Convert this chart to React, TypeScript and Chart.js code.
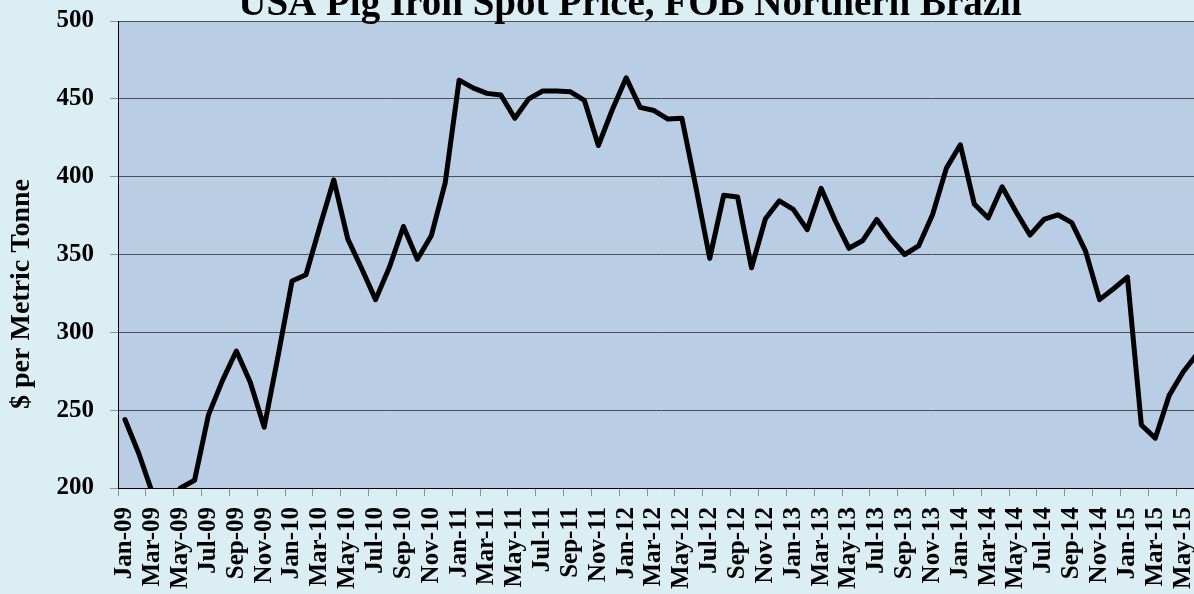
import React, { useEffect, useRef } from "react";
import { Chart, registerables } from "chart.js";

Chart.register(...registerables);

const CHART_TITLE = "USA Pig Iron Spot Price, FOB Northern Brazil";
const Y_AXIS_TITLE = "$ per Metric Tonne";

const months = [
  "Jan-09", "Feb-09", "Mar-09", "Apr-09", "May-09", "Jun-09", "Jul-09", "Aug-09", "Sep-09", "Oct-09", "Nov-09", "Dec-09",
  "Jan-10", "Feb-10", "Mar-10", "Apr-10", "May-10", "Jun-10", "Jul-10", "Aug-10", "Sep-10", "Oct-10", "Nov-10", "Dec-10",
  "Jan-11", "Feb-11", "Mar-11", "Apr-11", "May-11", "Jun-11", "Jul-11", "Aug-11", "Sep-11", "Oct-11", "Nov-11", "Dec-11",
  "Jan-12", "Feb-12", "Mar-12", "Apr-12", "May-12", "Jun-12", "Jul-12", "Aug-12", "Sep-12", "Oct-12", "Nov-12", "Dec-12",
  "Jan-13", "Feb-13", "Mar-13", "Apr-13", "May-13", "Jun-13", "Jul-13", "Aug-13", "Sep-13", "Oct-13", "Nov-13", "Dec-13",
  "Jan-14", "Feb-14", "Mar-14", "Apr-14", "May-14", "Jun-14", "Jul-14", "Aug-14", "Sep-14", "Oct-14", "Nov-14", "Dec-14",
  "Jan-15", "Feb-15", "Mar-15", "Apr-15", "May-15", "Jun-15",
];

const prices2009 = [244, 222, 196, 190, 200, 205, 247, 269, 288, 268, 239, 285];
const prices2010 = [333, 337, 368, 398, 360, 341, 321, 342, 368, 347, 362, 396];
const prices2011 = [462, 457, 453.5, 452.5, 437.5, 450, 455, 455, 454.5, 449, 420, 443];
const prices2012 = [463.5, 444.5, 442.5, 437, 437.5, 393.5, 347.5, 388, 387, 341.5, 373, 384.5];
const prices2013 = [379, 366, 392.5, 372, 354, 359, 372.5, 360, 350, 355.5, 375.5, 405.5];
const prices2014 = [420.5, 382.5, 373.5, 393.5, 377.5, 362.5, 372.5, 375.5, 370.5, 352, 321, 328];
const prices2015 = [335.5, 240.5, 232, 259.5, 274.5, 286];

const prices = [
  ...prices2009, ...prices2010, ...prices2011, ...prices2012,
  ...prices2013, ...prices2014, ...prices2015,
];

const yTickValues = [200, 250, 300, 350, 400, 450, 500];

const FONT = '"Liberation Serif", "Times New Roman", serif';

const plotBackground = {
  id: "plotBackground",
  beforeDraw(chart: any) {
    const { ctx, chartArea } = chart;
    if (!chartArea) return;
    ctx.save();
    ctx.fillStyle = "#B9CDE5";
    ctx.fillRect(chartArea.left, chartArea.top, chartArea.right - chartArea.left, chartArea.bottom - chartArea.top);
    ctx.restore();
  },
};

const chartTexts = {
  id: "chartTexts",
  afterDraw(chart: any) {
    const { ctx } = chart;
    ctx.save();
    ctx.fillStyle = "#000";
    ctx.font = `bold 39px ${FONT}`;
    ctx.textAlign = "center";
    ctx.textBaseline = "alphabetic";
    ctx.fillText(CHART_TITLE, 630, 15);

    ctx.translate(22, 294);
    ctx.rotate(-Math.PI / 2);
    ctx.font = `bold 28px ${FONT}`;
    ctx.textAlign = "center";
    ctx.textBaseline = "middle";
    ctx.fillText(Y_AXIS_TITLE, 0, 0);
    ctx.restore();
  },
};

export default function App() {
  const canvasRef = useRef<HTMLCanvasElement | null>(null);

  useEffect(() => {
    document.body.style.margin = "0";
    document.body.style.background = "#DBEEF3";
    const canvas = canvasRef.current;
    if (!canvas) return;
    const chart = new Chart(canvas, {
      type: "line",
      data: {
        labels: months,
        datasets: [
          {
            label: "Pig iron price",
            data: prices,
            borderColor: "#000000",
            backgroundColor: "#000000",
            borderWidth: 5,
            pointRadius: 0,
            pointHoverRadius: 0,
            tension: 0,
            borderJoinStyle: "round",
            borderCapStyle: "round",
            clip: 0,
          } as any,
        ],
      },
      options: {
        responsive: false,
        maintainAspectRatio: false,
        animation: false,
        events: [],
        layout: { padding: { top: 21, right: 20, bottom: 0, left: 0 } },
        plugins: {
          legend: { display: false },
          title: { display: false },
          tooltip: { enabled: false },
        },
        scales: {
          x: {
            type: "category",
            offset: true,
            afterFit(scale: any) {
              scale.height = 106;
              scale.paddingLeft = 0;
              scale.paddingRight = 0;
            },
            grid: {
              offset: true,
              drawOnChartArea: false,
              drawTicks: true,
              tickLength: 8,
              color: (ctx: any) => (ctx.index % 2 === 0 ? "#8C9296" : "rgba(0,0,0,0)"),
            },
            border: { display: true, color: "#000000", width: 1 },
            ticks: {
              autoSkip: false,
              minRotation: 90,
              maxRotation: 90,
              padding: 11,
              color: "#000000",
              font: { family: FONT, size: 25, weight: "bold" },
              callback: (_v: any, index: number) => (index % 2 === 0 ? months[index] : ""),
            },
          },
          y: {
            min: 200,
            max: 500,
            afterFit(scale: any) {
              scale.width = 118;
              scale.paddingTop = 0;
              scale.paddingBottom = 0;
            },
            afterBuildTicks(scale: any) {
              scale.ticks = yTickValues.map((v) => ({ value: v }));
            },
            grid: {
              color: "#4A5058",
              lineWidth: 1,
              drawTicks: true,
              tickLength: 8,
              tickColor: "#8C9296",
            },
            border: { display: true, color: "#000000", width: 1 },
            ticks: {
              padding: 16,
              color: "#000000",
              font: { family: FONT, size: 25, weight: "bold" },
            },
            title: { display: false },
          },
        },
      },
      plugins: [plotBackground, chartTexts],
    });
    return () => chart.destroy();
  }, []);

  return (
    <div
      style={{
        width: 1194,
        height: 594,
        overflow: "hidden",
        position: "relative",
        background: "#DBEEF3",
      }}
    >
      <canvas
        ref={canvasRef}
        width={1224}
        height={594}
        aria-label={`${CHART_TITLE}; ${Y_AXIS_TITLE}`}
        style={{ display: "block", position: "absolute", left: 0, top: 0, width: 1224, height: 594 }}
      />
    </div>
  );
}
